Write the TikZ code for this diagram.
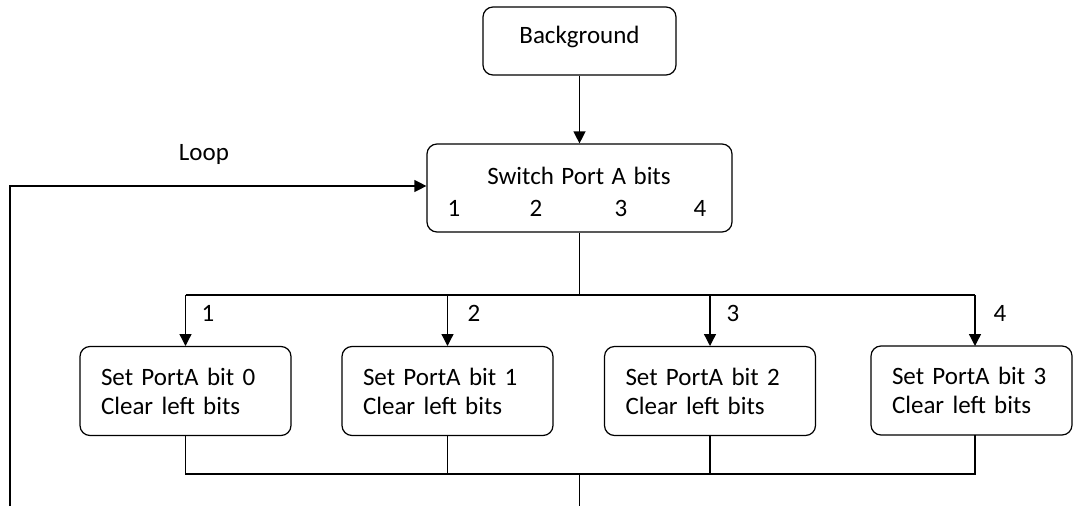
\documentclass[tikz,border=0pt]{standalone}
\usepackage{fontspec}
\setmainfont{Carlito}[WordSpace=0.85]
\usetikzlibrary{arrows.meta}
\begin{document}
\begin{tikzpicture}[x=1pt,y=-1pt,
  line width=1.3pt,
  box/.style={draw, line width=1.2pt, rounded corners=10pt, inner sep=0pt},
  setbox/.style={box, minimum width=211pt, minimum height=89pt, text width=169pt, align=left, font=\fontsize{25}{29}\selectfont},
  txt/.style={font=\fontsize{25}{29}\selectfont, inner sep=0pt},
  arr/.style={-{Triangle[length=12pt,width=12pt]}}
]
\useasboundingbox (0,0) rectangle (1073,506);
% boxes
\node[box, minimum width=193pt, minimum height=68pt] (bg) at (579.5,41) {};
\node[txt] (bgt) at (579.5,37) {Background};
\node[box, minimum width=305pt, minimum height=88pt] (sw) at (579.5,188) {};
\node[txt] (swt) at (579,176) {\spaceskip=7.5pt plus 1pt\relax Switch Port A bits};
\node[txt] (n1) at (454,208) {1};
\node[txt] (n2) at (536,208) {2};
\node[txt] (n3) at (621,208) {3};
\node[txt] (n4) at (700,208) {4};
\node[setbox] (b1) at (185.5,391) {Set PortA bit 0\\Clear left bits};
\node[setbox] (b2) at (447.5,391) {Set PortA bit 1\\Clear left bits};
\node[setbox] (b3) at (710,391) {Set PortA bit 2\\Clear left bits};
\node[setbox, minimum width=201pt, text width=159pt, minimum height=89pt] (b4) at (971.5,390.5) {Set PortA bit 3\\Clear left bits};
% labels
\node[txt] (loop) at (204,154) {Loop};
\node[txt] (l1) at (208,313) {1};
\node[txt] (l2) at (474,313) {2};
\node[txt] (l3) at (733,313) {3};
\node[txt] (l4) at (1000,313) {4};
% coordinates
\coordinate (split) at (579.5,295);
\coordinate (join) at (579.5,474);
\coordinate (bot) at (579.5,506);
\coordinate (lb) at (10,506);
\coordinate (lt) at (10,186);
% connectors
\draw[arr] (bg.south) -- (sw.north);
\draw (sw.south) -- (split);
\draw (185.5,295) -- (975,295);
\draw[arr] (185.5,295) -- (185.5,346);
\draw[arr] (447.5,295) -- (447.5,346);
\draw[arr] (710,295) -- (710,346);
\draw[arr] (975,295) -- (975,346);
\draw (185.5,435) -- (185.5,474) -- (975,474) -- (975,435);
\draw (447.5,435) -- (447.5,474);
\draw (710,435) -- (710,474);
\draw (join) -- (bot);
\draw[arr] (lb) -- (lt) -- (sw.west |- lt);
\end{tikzpicture}
\end{document}
